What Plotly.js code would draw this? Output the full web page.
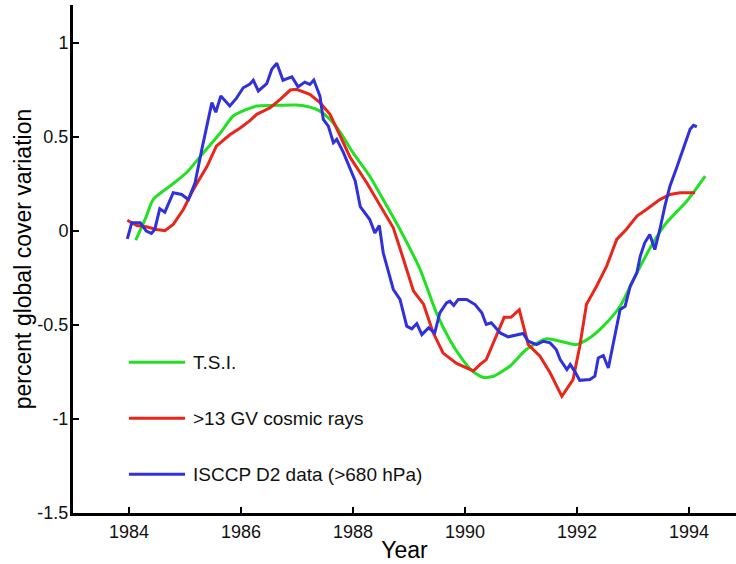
<!DOCTYPE html>
<html>
<head>
<meta charset="utf-8">
<script src="https://cdn.plot.ly/plotly-3.0.1.min.js"></script>
<style>
  html, body { margin: 0; padding: 0; background: #fff; }
  #chart { width: 736px; height: 564px; }
</style>
</head>
<body>
<div id="chart"></div>
<script>
// Total solar irradiance (scaled), smooth curve
const tsiYears = [1984.12, 1984.30, 1984.43, 1984.73, 1985.03, 1985.33, 1985.63, 1985.86, 1986.10, 1986.28,
  1986.58, 1986.99, 1987.23, 1987.41, 1987.59, 1987.77, 1988.00, 1988.30, 1988.54, 1988.84,
  1989.20, 1989.49, 1989.73, 1989.97, 1990.15, 1990.33, 1990.51, 1990.80, 1991.10, 1991.46,
  1991.70, 1991.99, 1992.23, 1992.47, 1992.77, 1993.07, 1993.36, 1993.60, 1993.96, 1994.29];
const tsiValues = [-0.05, 0.07, 0.166, 0.237, 0.31, 0.415, 0.52, 0.61, 0.645, 0.663,
  0.666, 0.668, 0.657, 0.636, 0.592, 0.525, 0.415, 0.29, 0.166, 0.007,
  -0.206, -0.436, -0.58, -0.69, -0.75, -0.78, -0.773, -0.72, -0.63, -0.574,
  -0.587, -0.605, -0.569, -0.507, -0.401, -0.223, -0.064, 0.043, 0.157, 0.29];

// >13 GV cosmic ray flux (scaled)
const crYears = [1983.97, 1984.14, 1984.31, 1984.49, 1984.64, 1984.79, 1984.97, 1985.15, 1985.27, 1985.39,
  1985.56, 1985.80, 1985.98, 1986.16, 1986.28, 1986.52, 1986.70, 1986.88, 1986.99, 1987.23,
  1987.41, 1987.59, 1987.77, 1987.95, 1988.24, 1988.48, 1988.72, 1988.90, 1989.08, 1989.26,
  1989.43, 1989.61, 1989.85, 1990.15, 1990.27, 1990.38, 1990.56, 1990.70, 1990.82, 1990.97,
  1991.13, 1991.34, 1991.52, 1991.73, 1991.93, 1992.05, 1992.17, 1992.35, 1992.53, 1992.71,
  1992.88, 1993.07, 1993.24, 1993.48, 1993.66, 1993.84, 1994.11];
const crValues = [0.056, 0.028, 0.021, 0.007, 0.001, 0.034, 0.113, 0.22, 0.28, 0.34,
  0.45, 0.51, 0.545, 0.585, 0.619, 0.654, 0.698, 0.748, 0.752, 0.725,
  0.681, 0.619, 0.505, 0.39, 0.258, 0.14, 0.016, -0.15, -0.32, -0.39,
  -0.54, -0.65, -0.705, -0.745, -0.71, -0.685, -0.56, -0.46, -0.46, -0.42,
  -0.605, -0.667, -0.755, -0.88, -0.791, -0.614, -0.39, -0.295, -0.188, -0.046,
  0.007, 0.078, 0.113, 0.166, 0.193, 0.202, 0.202];

// ISCCP D2 low cloud cover anomaly (>680 hPa)
const cloudYears = [1983.97, 1984.05, 1984.20, 1984.31, 1984.40, 1984.46, 1984.55, 1984.64, 1984.79, 1984.94,
  1985.06, 1985.18, 1985.30, 1985.42, 1985.48, 1985.55, 1985.64, 1985.80, 1985.92, 1986.04,
  1986.16, 1986.22, 1986.31, 1986.46, 1986.55, 1986.64, 1986.75, 1986.91, 1987.02, 1987.14,
  1987.23, 1987.30, 1987.41, 1987.47, 1987.56, 1987.65, 1987.71, 1987.83, 1987.95, 1988.04,
  1988.13, 1988.30, 1988.39, 1988.47, 1988.54, 1988.72, 1988.84, 1988.96, 1989.05, 1989.14,
  1989.23, 1989.35, 1989.46, 1989.55, 1989.67, 1989.73, 1989.80, 1989.88, 1990.03, 1990.18,
  1990.30, 1990.38, 1990.47, 1990.63, 1990.77, 1990.92, 1991.04, 1991.13, 1991.28, 1991.40,
  1991.52, 1991.63, 1991.70, 1991.82, 1991.88, 1991.96, 1992.05, 1992.23, 1992.32, 1992.38,
  1992.47, 1992.56, 1992.65, 1992.77, 1992.86, 1992.95, 1993.07, 1993.13, 1993.21, 1993.30,
  1993.39, 1993.48, 1993.57, 1993.66, 1993.78, 1993.90, 1994.02, 1994.08, 1994.14];
const cloudValues = [-0.043, 0.043, 0.043, -0.002, -0.014, 0.007, 0.117, 0.099, 0.202, 0.193,
  0.166, 0.255, 0.432, 0.61, 0.681, 0.63, 0.716, 0.663, 0.705, 0.76,
  0.78, 0.8, 0.743, 0.782, 0.858, 0.89, 0.8, 0.818, 0.765, 0.79,
  0.778, 0.801, 0.716, 0.592, 0.556, 0.468, 0.486, 0.415, 0.326, 0.265,
  0.128, 0.06, -0.011, 0.028, -0.117, -0.312, -0.365, -0.507, -0.521, -0.493,
  -0.552, -0.516, -0.543, -0.436, -0.383, -0.374, -0.397, -0.365, -0.365, -0.392,
  -0.436, -0.498, -0.489, -0.543, -0.564, -0.552, -0.546, -0.587, -0.605, -0.587,
  -0.596, -0.631, -0.685, -0.738, -0.711, -0.747, -0.795, -0.791, -0.773, -0.676,
  -0.663, -0.729, -0.596, -0.419, -0.401, -0.295, -0.223, -0.135, -0.064, -0.02,
  -0.1, 0.007, 0.131, 0.237, 0.335, 0.432, 0.539, 0.56, 0.553];

const seriesNames = ['T.S.I.', '>13 GV cosmic rays', 'ISCCP D2 data (>680 hPa)'];
const seriesColors = ['#22e022', '#e8261a', '#3030dc'];

const xTickVals = [1984, 1986, 1988, 1990, 1992, 1994];
const xTickText = ['1984', '1986', '1988', '1990', '1992', '1994'];
const yTickVals = [1, 0.5, 0, -0.5, -1, -1.5];
const yTickText = ['1', '0.5', '0', '-0.5', '-1', '-1.5'];

const FONT = '"Liberation Sans", Arial, sans-serif';

const traces = [
  { x: tsiYears, y: tsiValues, line: { shape: 'spline', smoothing: 0.6 } },
  { x: crYears, y: crValues, line: { shape: 'linear' } },
  { x: cloudYears, y: cloudValues, line: { shape: 'linear' } }
].map((t, i) => ({
  type: 'scatter',
  mode: 'lines',
  name: seriesNames[i],
  x: t.x,
  y: t.y,
  showlegend: false,
  line: Object.assign({ color: seriesColors[i], width: 3 }, t.line),
  hoverinfo: 'x+y+name'
}));

// Hand-placed key in the lower-left of the plot area (paper coordinates)
const keyX0 = 0.0845, keyX1 = 0.169, keyTextX = 0.1775;
const keyRows = [0.2967, 0.1864, 0.0762];

const keyShapes = seriesNames.map((n, i) => ({
  type: 'line', xref: 'paper', yref: 'paper',
  x0: keyX0, x1: keyX1, y0: keyRows[i], y1: keyRows[i],
  line: { color: seriesColors[i], width: 3 }
}));
const keyLabels = seriesNames.map((n, i) => ({
  xref: 'paper', yref: 'paper', x: keyTextX, y: keyRows[i],
  xanchor: 'left', yanchor: 'middle', showarrow: false,
  text: n.replace('>', '&gt;'),
  font: { family: FONT, size: 19, color: '#111' }
}));

const layout = {
  width: 736, height: 564,
  margin: { l: 73, r: 0, t: 5, b: 51, pad: 0 },
  paper_bgcolor: '#fff', plot_bgcolor: '#fff',
  font: { family: FONT, color: '#111' },
  xaxis: {
    range: [1983, 1994.84],
    tickvals: xTickVals, ticktext: xTickText,
    ticks: 'inside', ticklen: 6, tickwidth: 2, tickcolor: '#000',
    showline: true, linecolor: '#000', linewidth: 3,
    showgrid: false, zeroline: false,
    tickfont: { family: FONT, size: 18, color: '#111' },
    title: { text: 'Year', font: { family: FONT, size: 23, color: '#000' }, standoff: 2 },
    automargin: false
  },
  yaxis: {
    range: [-1.5, 1.2],
    tickvals: yTickVals, ticktext: yTickText,
    ticks: 'inside', ticklen: 6, tickwidth: 2, tickcolor: '#000',
    showline: true, linecolor: '#000', linewidth: 3,
    showgrid: false, zeroline: false,
    tickfont: { family: FONT, size: 18, color: '#111' },
    ticklabelstandoff: -2,
    title: { text: 'percent global cover variation', font: { family: FONT, size: 23, color: '#000' }, standoff: 0 },
    automargin: false
  },
  shapes: keyShapes,
  annotations: keyLabels,
  showlegend: false
};

Plotly.newPlot('chart', traces, layout, { displayModeBar: false, staticPlot: true });
</script>
</body>
</html>
